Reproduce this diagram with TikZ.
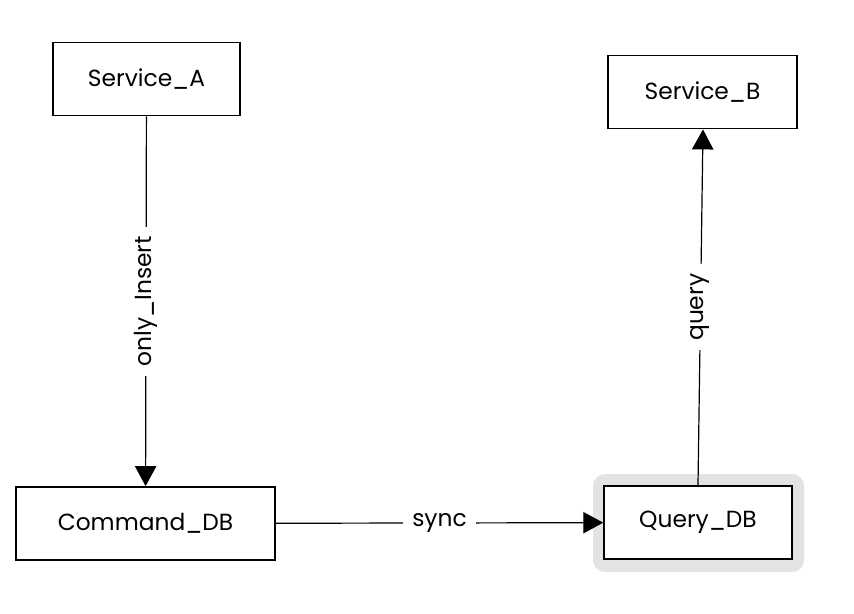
\documentclass[tikz,border=0pt]{standalone}
\usepackage{fontspec}
\setmainfont{Poppins}
\usetikzlibrary{arrows.meta}
\begin{document}
\begin{tikzpicture}[x=0.75pt,y=-0.75pt,
  box/.style={draw=black,line width=1.1pt,fill=white,minimum width=#1,minimum height=55pt,inner sep=0pt,font=\fontsize{17.5}{20}\selectfont},
  conn/.style={line width=0.9pt,-{Triangle[length=15pt,width=16pt]}},
  lbl/.style={fill=white,inner xsep=7pt,inner ysep=4pt,font=\fontsize{17.5}{20}\selectfont}]
\useasboundingbox (0,0) rectangle (854,614);
\fill[gray!22,rounded corners=9pt] (593,474) rectangle (804,572);
\node[box=140pt] (sa) at (146.5,79) {Service\_A};
\node[box=141.75pt] (sb) at (702.5,92) {Service\_B};
\node[box=194.25pt] (cd) at (145.5,523.5) {Command\_DB};
\node[box=141pt] (qd) at (698,522.5) {Query\_DB};
\draw[conn] (sa) -- node[lbl,rotate=90] {only\_Insert} (cd);
\draw[conn] (cd) -- node[lbl] {sync} (qd);
\draw[conn] (qd.north) -- node[lbl,rotate=90,pos=0.5] {query} (sb.south -| 703,0);
\end{tikzpicture}
\end{document}
